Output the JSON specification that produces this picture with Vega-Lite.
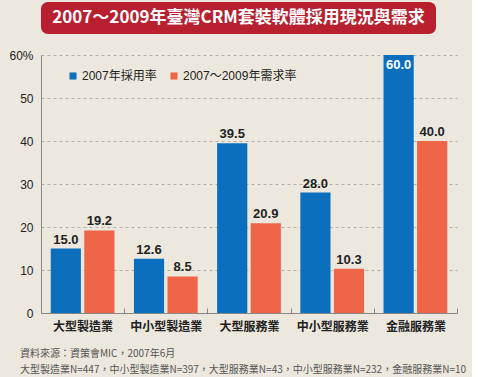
{
  "$schema": "https://vega.github.io/schema/vega-lite/v6.json",
  "background": "#ede8de",
  "padding": {"left": 8, "top": 2, "right": 5, "bottom": 2},
  "bounds": "flush",
  "spacing": 21,
  "config": {
    "view": {"stroke": null},
    "font": "Liberation Sans, Noto Sans CJK TC, sans-serif"
  },
  "vconcat": [
    {
      "width": 395,
      "height": 32,
      "data": {"values": [{"title": "2007～2009年臺灣CRM套裝軟體採用現況與需求"}]},
      "layer": [
        {"mark": {"type": "rect", "color": "#b8202f", "cornerRadius": 7}, "encoding": {}},
        {
          "mark": {"type": "text", "color": "white", "fontSize": 17, "fontWeight": "bold", "font": "Noto Sans CJK TC", "baseline": "middle"},
          "encoding": {"text": {"field": "title"}}
        }
      ]
    },
    {
      "width": 416,
      "height": 258,
      "title": {
        "text": ["資料來源：資策會MIC，2007年6月", "大型製造業N=447，中小型製造業N=397，大型服務業N=43，中小型服務業N=232，金融服務業N=10"],
        "orient": "bottom",
        "anchor": "start",
        "frame": "group",
        "dx": -21,
        "offset": 17,
        "fontSize": 10,
        "fontWeight": "normal",
        "color": "#555555",
        "font": "Noto Sans CJK TC",
        "lineHeight": 16
      },
      "data": {
        "values": [
          {"industry": "大型製造業", "series": "2007年採用率", "value": 15.0},
          {"industry": "大型製造業", "series": "2007～2009年需求率", "value": 19.2},
          {"industry": "中小型製造業", "series": "2007年採用率", "value": 12.6},
          {"industry": "中小型製造業", "series": "2007～2009年需求率", "value": 8.5},
          {"industry": "大型服務業", "series": "2007年採用率", "value": 39.5},
          {"industry": "大型服務業", "series": "2007～2009年需求率", "value": 20.9},
          {"industry": "中小型服務業", "series": "2007年採用率", "value": 28.0},
          {"industry": "中小型服務業", "series": "2007～2009年需求率", "value": 10.3},
          {"industry": "金融服務業", "series": "2007年採用率", "value": 60.0},
          {"industry": "金融服務業", "series": "2007～2009年需求率", "value": 40.0}
        ]
      },
      "encoding": {
        "x": {
          "field": "industry",
          "type": "nominal",
          "sort": null,
          "scale": {"paddingInner": 0, "paddingOuter": 0},
          "axis": {
            "title": null,
            "labelAngle": 0,
            "labelFontSize": 12,
            "labelFontWeight": "bold",
            "labelFont": "Noto Sans CJK TC",
            "labelColor": "#222222",
            "labelPadding": 13,
            "tickBand": "extent",
            "tickSize": -5,
            "tickColor": "#888888",
            "domainColor": "#888888",
            "domainWidth": 1
          }
        },
        "xOffset": {
          "field": "series",
          "type": "nominal",
          "sort": ["2007年採用率", "2007～2009年需求率"],
          "scale": {"paddingInner": 0.1, "paddingOuter": 0.29}
        },
        "y": {
          "field": "value",
          "type": "quantitative",
          "scale": {"domain": [0, 60], "nice": false},
          "axis": {
            "title": null,
            "values": [0, 10, 20, 30, 40, 50, 60],
            "labelExpr": "datum.value == 60 ? '60%' : datum.label",
            "labelFontSize": 12,
            "labelColor": "#222222",
            "labelPadding": 8,
            "ticks": false,
            "gridDash": [3, 3],
            "gridColor": "#b5b0a8",
            "domainColor": "#888888"
          }
        }
      },
      "layer": [
        {
          "mark": {"type": "bar"},
          "encoding": {
            "color": {
              "field": "series",
              "type": "nominal",
              "scale": {"domain": ["2007年採用率", "2007～2009年需求率"], "range": ["#0b6fbd", "#ee6547"]},
              "legend": {
                "title": null,
                "orient": "none",
                "legendX": 26,
                "legendY": 68,
                "direction": "horizontal",
                "symbolType": "square",
                "symbolSize": 50,
                "symbolStrokeWidth": 0,
                "labelFontSize": 12,
                "labelColor": "#222222",
                "columnPadding": 11,
                "labelOffset": 3
              }
            }
          }
        },
        {
          "transform": [{"filter": "datum.value < 55"}],
          "mark": {"type": "text", "dy": -9, "fontSize": 13, "fontWeight": "bold", "color": "#222222"},
          "encoding": {"text": {"field": "value", "format": ".1f"}}
        },
        {
          "transform": [{"filter": "datum.value >= 55"}],
          "mark": {"type": "text", "dy": 10, "fontSize": 13, "fontWeight": "bold", "color": "white"},
          "encoding": {"text": {"field": "value", "format": ".1f"}}
        }
      ]
    }
  ]
}
